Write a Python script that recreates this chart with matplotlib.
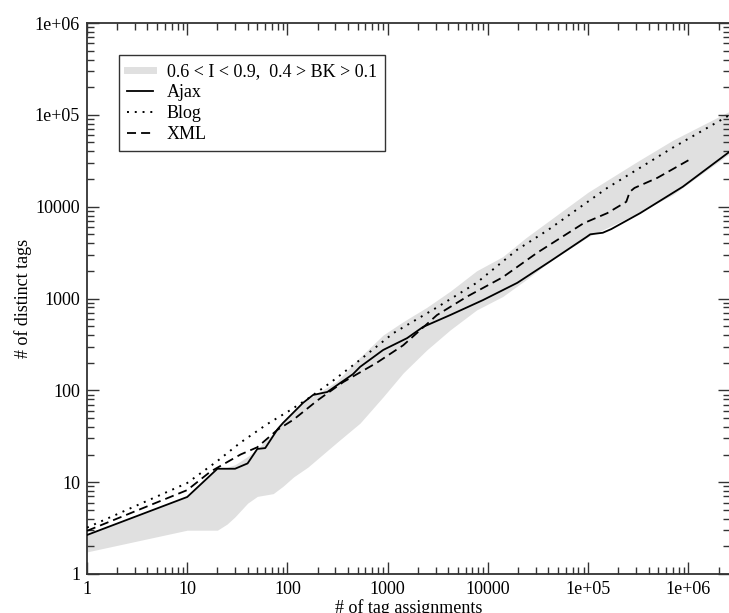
import numpy as np
import matplotlib
matplotlib.use('Agg')
import matplotlib.pyplot as plt
from matplotlib.lines import Line2D
from matplotlib.ticker import FixedLocator, FixedFormatter, LogLocator, NullFormatter

### data ###

# grey band: 0.6 < I < 0.9, 0.4 > BK > 0.1
band_x = [1, 10, 20, 25, 30, 40, 50, 72, 90, 115, 160, 310, 530, 900, 1430,
          2450, 4200, 7700, 14000, 24000, 42000, 1e5, 3e5, 7e5, 2.6e6]
band_lo = [1.74, 3.0, 3.0, 3.5, 4.2, 5.9, 7.0, 7.5, 9.0, 11.4, 14.6, 27, 44, 85, 155,
           275, 455, 750, 1050, 1600, 2550, 4700, 8300, 13500, 38000]
band_hi = [2.7, 7.0, 14, 14.5, 15.5, 19, 23, 34, 45, 58, 80, 125, 230, 400, 560,
           800, 1200, 2000, 2850, 4600, 7200, 14400, 30400, 53000, 110000]

# Ajax (solid)
ajax_x = [1, 10, 20, 30, 40, 50, 60, 80, 90, 143, 180, 250, 335, 450, 530, 900,
          1560, 2250, 4200, 8900, 19600, 42000, 97000, 105000, 140000, 170000,
          330000, 880000, 2.6e6]
ajax_y = [2.66, 6.9, 14.0, 14.0, 16.0, 23.0, 23.5, 38, 44, 73, 89, 96, 120, 150, 180, 275,
          370, 490, 660, 960, 1480, 2550, 4700, 5000, 5200, 5700,
          8500, 16500, 40000]

# Blog (dotted)
blog_x = [1, 10, 20, 34, 63, 107, 157, 265, 530, 1140, 3100, 7700, 19600,
          40000, 155000, 700000, 2.6e6]
blog_y = [3.2, 9.8, 17, 27, 43, 61, 80, 120, 215, 420, 800, 1480, 3400,
          5600, 16000, 44000, 100000]

# XML (dashed)
xml_x = [1, 10, 17, 34, 50, 79, 115, 200, 360, 780, 1430, 3100, 6200, 14000,
         31000, 90000, 155000, 240000, 260000, 290000, 490000, 1e6]
xml_y = [2.95, 8.2, 13, 20, 24, 37, 48, 78, 123, 200, 310, 660, 1050, 1700,
         3150, 6600, 8500, 11300, 14500, 16000, 20600, 32000]

tick_vals = [1, 10, 100, 1000, 10000, 1e5, 1e6]
tick_labels = ['1', '10', '100', '1000', '10000', '1e+05', '1e+06']

###

plt.rcParams['font.family'] = ['Liberation Serif', 'DejaVu Serif']

fig = plt.figure(figsize=(7.29, 6.13), dpi=100)
ax = fig.add_axes([87 / 729, 39 / 613, 643 / 729, 551 / 613])

ax.fill_between(band_x, band_lo, band_hi, color='#e0e0e0', lw=0, zorder=1)
ax.plot(ajax_x, ajax_y, color='black', lw=1.3, zorder=3)
ax.plot(blog_x, blog_y, color='black', lw=1.4, linestyle=(0, (1, 3)), zorder=3)
ax.plot(xml_x, xml_y, color='black', lw=1.3, linestyle=(0, (5, 2.8)), zorder=3)

ax.set_xscale('log')
ax.set_yscale('log')
ax.set_xlim(1, 2.6e6)
ax.set_ylim(1, 1e6)

for axis in (ax.xaxis, ax.yaxis):
    axis.set_major_locator(FixedLocator(tick_vals))
    axis.set_major_formatter(FixedFormatter(tick_labels))
    axis.set_minor_locator(LogLocator(base=10, subs=np.arange(2, 10), numticks=20))
    axis.set_minor_formatter(NullFormatter())

ax.tick_params(which='both', direction='in', top=True, right=True, color='#333333', width=1.0)
ax.tick_params(which='major', length=8.5, labelsize=13, pad=5)
ax.tick_params(which='minor', length=5)
for sp in ax.spines.values():
    sp.set_color('#333333')
    sp.set_linewidth(1.3)

# label sits at the bottom edge, partly clipped as in the original
ax.set_xlabel('# of tag assignments', fontsize=13, labelpad=1)
ax.set_ylabel('# of distinct tags', fontsize=13, labelpad=2)

handles = [Line2D([], [], color='#e0e0e0', lw=5),
           Line2D([], [], color='black', lw=1.3),
           Line2D([], [], color='black', lw=1.4, linestyle=(0, (1, 3))),
           Line2D([], [], color='black', lw=1.3, linestyle=(0, (5, 2.8)))]
labels = ['0.6 < I < 0.9,  0.4 > BK > 0.1', 'Ajax', 'Blog', 'XML']
leg = ax.legend(handles, labels, loc='upper left', bbox_to_anchor=(0.05, 0.942),
                borderaxespad=0, fontsize=13, frameon=True, fancybox=False,
                handlelength=1.45, handletextpad=0.75, labelspacing=0.22,
                borderpad=0.45)
leg.get_frame().set_edgecolor('black')
leg.get_frame().set_linewidth(1.0)

plt.savefig('out.png', dpi=100)
